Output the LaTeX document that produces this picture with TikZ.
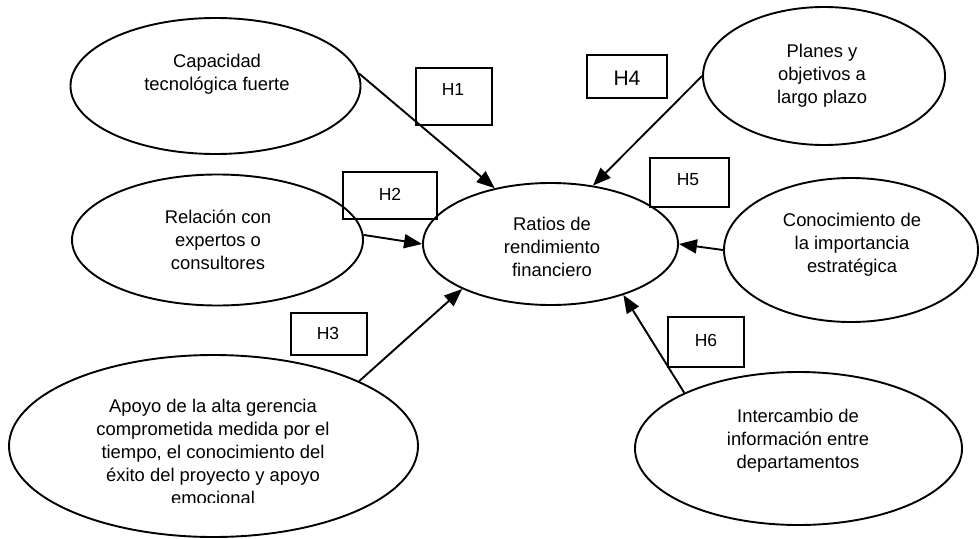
\documentclass[tikz,border=0pt]{standalone}
\usepackage{fontspec}
\setmainfont{Liberation Sans}
\usetikzlibrary{shapes.geometric,arrows.meta}
\begin{document}
\begin{tikzpicture}[x=1pt,y=-1pt,
  oval/.style={draw, ellipse, line width=1.9pt, inner sep=0pt},
  hbox/.style={draw, rectangle, line width=1.9pt, inner sep=0pt},
  txt/.style={inner sep=0pt, align=center, font=\fontsize{18.4}{23}\selectfont},
  hlab/.style={inner sep=0pt, font=\fontsize{17.5}{21}\selectfont},
  link/.style={line width=1.9pt, -{Triangle[length=18pt,width=14pt]}}]
\useasboundingbox (0,0) rectangle (979,538);

% constructs (ellipses)
\node[oval, minimum width=290pt, minimum height=136pt] (cap)   at (215.5,86)  {};
\node[oval, minimum width=291pt, minimum height=131pt] (rel)   at (217.5,240) {};
\node[oval, minimum width=255pt, minimum height=122pt] (rat)   at (550.5,244) {};
\node[oval, minimum width=242pt, minimum height=138pt] (plan)  at (824,76)    {};
\node[oval, minimum width=254pt, minimum height=144pt] (cono)  at (851,250)   {};
\node[oval, minimum width=409pt, minimum height=182pt] (apoyo) at (213.5,446) {};
\node[oval, minimum width=327pt, minimum height=153pt] (inter) at (798.5,448.5) {};

% construct texts
\node[txt] (tcap)  at (217,74)    {Capacidad\\tecnológica fuerte};
\node[txt] (trel)  at (218,240)   {Relación con\\expertos o\\consultores};
\node[txt] (trat)  at (552,247)   {Ratios de\\rendimiento\\financiero};
\node[txt] (tplan) at (822,75.5)  {Planes y\\objetivos a\\largo plazo};
\node[txt] (tcono) at (852,244.5) {Conocimiento de\\la importancia\\estratégica};
\node[txt] (tinter) at (798,440.5) {Intercambio de\\información entre\\departamentos};
\begin{scope}
  \clip (0,0) rectangle (979,502);
  \node[txt] (tapoyo) at (213,452) {Apoyo de la alta gerencia\\comprometida medida por el\\tiempo, el conocimiento del\\éxito del proyecto y apoyo\\emocional};
\end{scope}

% hypothesis boxes
\node[hbox, minimum width=76pt, minimum height=57pt] (b1) at (454,96.5)   {};
\node[hbox, minimum width=94pt, minimum height=47pt] (b2) at (390,195.5)  {};
\node[hbox, minimum width=76pt, minimum height=42pt] (b3) at (329,334)    {};
\node[hbox, minimum width=80pt, minimum height=43pt] (b4) at (627,76.5)   {};
\node[hbox, minimum width=79pt, minimum height=49pt] (b5) at (689.5,182.5) {};
\node[hbox, minimum width=76pt, minimum height=50pt] (b6) at (706,342)    {};

\node[hlab] (h1) at (453,89)  {H1};
\node[hlab] (h2) at (390,194) {H2};
\node[hlab] (h3) at (328,333) {H3};
\node[hlab, font=\fontsize{21}{25}\selectfont] (h4) at (627,78) {H4};
\node[hlab] (h5) at (688,180) {H5};
\node[hlab] (h6) at (706,340) {H6};

% hypothesised effects
\draw[link] (cap.5)       -- (rat.135.5);
\draw[link] (plan.180)    -- (rat.54.5);
\draw[link] (rel.2)       -- (rat.180);
\draw[link] (cono.180)    -- (rat.0);
\draw[link] (apoyo.24)    -- (rat.207.6);
\draw[link] (inter.154.4) -- (rat.-35.8);
\end{tikzpicture}
\end{document}
